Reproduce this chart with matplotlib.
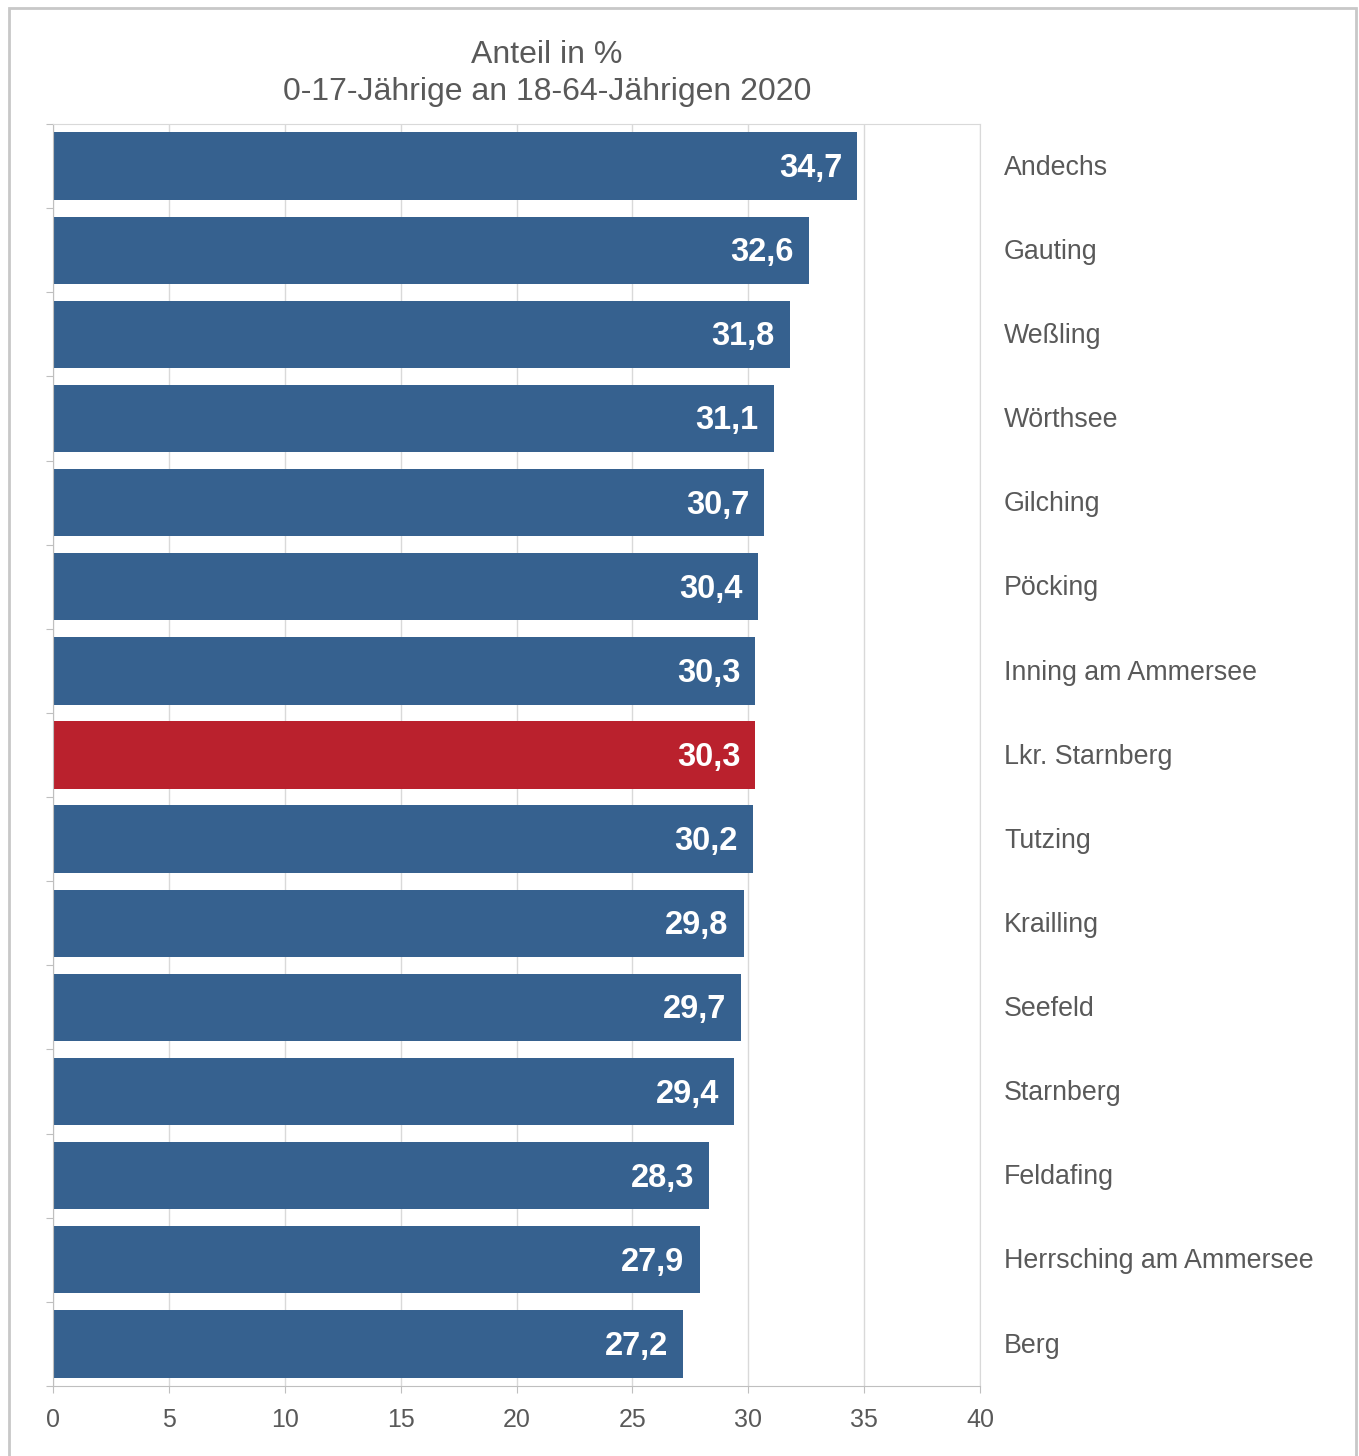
import matplotlib
matplotlib.use("Agg")
import matplotlib.pyplot as plt
from matplotlib.patches import Rectangle

plt.rcParams["font.family"] = ["Liberation Sans", "DejaVu Sans"]

# --- data ---
regions = ["Andechs", "Gauting", "Weßling", "Wörthsee", "Gilching", "Pöcking",
           "Inning am Ammersee", "Lkr. Starnberg", "Tutzing", "Krailling",
           "Seefeld", "Starnberg", "Feldafing", "Herrsching am Ammersee", "Berg"]
shares = [34.7, 32.6, 31.8, 31.1, 30.7, 30.4, 30.3, 30.3, 30.2, 29.8,
          29.7, 29.4, 28.3, 27.9, 27.2]
highlight = "Lkr. Starnberg"
xticks = [0, 5, 10, 15, 20, 25, 30, 35, 40]

BLUE = "#36618F"
RED = "#BA212D"
TEXT = "#595959"
GRID = "#D9D9D9"
AXIS = "#BFBFBF"

W, H = 1359, 1456
fig = plt.figure(figsize=(W / 100, H / 100), dpi=100)

# outer frame around the whole chart
fig.patches.append(Rectangle((9 / W, -0.01), (1356 - 9) / W, 1.01 - 8 / H,
                             transform=fig.transFigure, fill=False,
                             edgecolor="#C8C8C8", linewidth=2))

left, right, top, bottom = 53, 980, 124, 1386
ax = fig.add_axes([left / W, 1 - bottom / H, (right - left) / W, (bottom - top) / H])

ypos = list(range(len(regions)))
colors = [RED if r == highlight else BLUE for r in regions]
ax.barh(ypos, shares, height=0.8, color=colors, zorder=2)

ax.set_xlim(0, 40)
ax.set_ylim(len(regions) - 0.5, -0.5)
ax.set_xticks(xticks)
ax.set_xticklabels([str(t) for t in xticks])
ax.set_yticks([i + 0.5 for i in range(-1, len(regions))])
ax.set_yticklabels([])
ax.grid(axis="x", color=GRID, linewidth=1, zorder=0)
ax.tick_params(axis="x", colors=AXIS, labelcolor=TEXT, labelsize=18, length=5, pad=11)
ax.tick_params(axis="y", colors=AXIS, length=5)

for side in ["top", "right"]:
    ax.spines[side].set_color(GRID)
for side in ["left", "bottom"]:
    ax.spines[side].set_color(AXIS)

for y, v, r in zip(ypos, shares, regions):
    ax.text(v - 0.65, y + 0.03, f"{v:.1f}".replace(".", ","), ha="right", va="center",
            color="white", fontsize=23.5, fontweight="bold", zorder=3)
    ax.text((1004 - left) / (right - left), y + 0.02, r, transform=ax.get_yaxis_transform(),
            ha="left", va="center", color=TEXT, fontsize=19.3, clip_on=False)

fig.text(547 / W, 1 - 55 / H, "Anteil in %", ha="center", va="center",
         color=TEXT, fontsize=23)
fig.text(547 / W, 1 - 92 / H, "0-17-Jährige an 18-64-Jährigen 2020", ha="center",
         va="center", color=TEXT, fontsize=23)

fig.savefig("out.png", dpi=100, facecolor="white")
